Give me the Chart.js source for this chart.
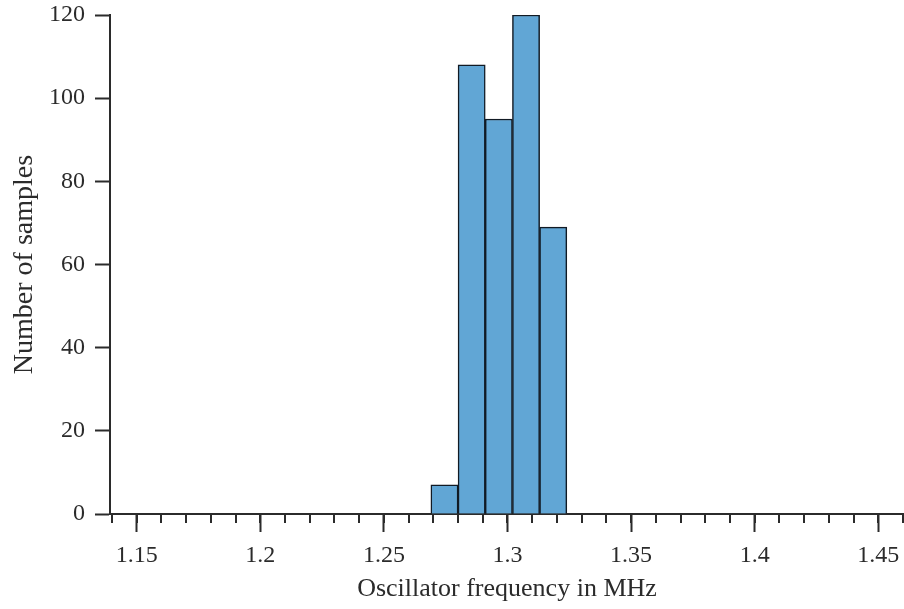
<!DOCTYPE html>
<html>
<head>
<meta charset="utf-8">
<script src="https://cdn.jsdelivr.net/npm/chart.js@4.4.1/dist/chart.umd.min.js"></script>
<style>
  html, body { margin: 0; padding: 0; background: #ffffff; }
  #wrap { width: 904px; height: 609px; position: relative; }
</style>
</head>
<body>
<div id="wrap"><canvas id="c" width="904" height="609"></canvas></div>
<script>
// Histogram data
const binEdges = [1.269, 1.280, 1.291, 1.302, 1.313, 1.324];
const counts = [7, 108, 95, 120, 69];
const xMin = 1.1392, xMax = 1.4604;
const xMajorStep = 0.05;
const xMinorStep = 0.01;
const yTicks = [0, 20, 40, 60, 80, 100, 120];
const xLabel = 'Oscillator frequency in MHz';
const yLabel = 'Number of samples';

const axisColor = '#2b2b2b';
const fontFamily = '"Liberation Serif", "Times New Roman", serif';

const barData = counts.map((c, i) => ({ x: (binEdges[i] + binEdges[i + 1]) / 2, y: c }));

const minorTicks = {
  id: 'minorTicks',
  afterDraw(chart) {
    const xs = chart.scales.x;
    const ctx = chart.ctx;
    const y0 = chart.chartArea.bottom;
    ctx.save();
    ctx.strokeStyle = axisColor;
    ctx.lineWidth = 2;
    const start = Math.ceil(xMin / xMinorStep - 1e-9);
    const end = Math.floor(xMax / xMinorStep + 1e-9);
    for (let i = start; i <= end; i++) {
      const v = i * xMinorStep;
      const px = Math.round(xs.getPixelForValue(v));
      ctx.beginPath();
      ctx.moveTo(px, y0);
      ctx.lineTo(px, y0 + 9);
      ctx.stroke();
    }
    ctx.restore();
  }
};

new Chart(document.getElementById('c'), {
  type: 'bar',
  data: {
    datasets: [{
      data: barData,
      backgroundColor: 'rgb(97,166,213)',
      borderColor: '#111a24',
      borderWidth: 1.5,
      barPercentage: 1,
      categoryPercentage: 1,
      grouped: false
    }]
  },
  plugins: [minorTicks],
  options: {
    responsive: false,
    animation: false,
    events: [],
    layout: { padding: { top: 15, right: 0, left: 0, bottom: 0 } },
    plugins: { legend: { display: false }, tooltip: { enabled: false } },
    scales: {
      x: {
        type: 'linear',
        min: xMin,
        max: xMax,
        offset: false,
        afterFit(scale) { scale.height = 95; scale.paddingLeft = 0; scale.paddingRight = 0; },
        afterBuildTicks(scale) {
          const t = [];
          const start = Math.ceil(xMin / xMajorStep - 1e-9);
          const end = Math.floor(xMax / xMajorStep + 1e-9);
          for (let i = start; i <= end; i++) {
            t.push({ value: Math.round(i * xMajorStep * 100) / 100 });
          }
          scale.ticks = t;
        },
        grid: {
          offset: false,
          drawOnChartArea: false,
          drawTicks: true,
          tickLength: 18,
          tickWidth: 2,
          tickColor: axisColor
        },
        border: { display: true, color: axisColor, width: 2 },
        ticks: {
          color: axisColor,
          font: { family: fontFamily, size: 24 },
          padding: 9,
          maxRotation: 0,
          autoSkip: false,
          callback: (v) => String(Math.round(v * 100) / 100)
        },
        title: {
          display: true,
          text: xLabel,
          color: axisColor,
          font: { family: fontFamily, size: 26 },
          padding: { top: 0, bottom: 4 }
        }
      },
      y: {
        min: 0,
        max: 120,
        afterFit(scale) { scale.width = 110; scale.paddingTop = 0; scale.paddingBottom = 0; },
        afterBuildTicks(scale) { scale.ticks = yTicks.map(v => ({ value: v })); },
        grid: {
          drawOnChartArea: false,
          drawTicks: true,
          tickLength: 15,
          tickWidth: 2,
          tickColor: axisColor
        },
        border: { display: true, color: axisColor, width: 2 },
        ticks: {
          color: axisColor,
          font: { family: fontFamily, size: 24 },
          padding: 10
        },
        title: {
          display: true,
          text: yLabel,
          color: axisColor,
          font: { family: fontFamily, size: 28 },
          padding: { top: 8, bottom: 0 }
        }
      }
    }
  }
});
</script>
</body>
</html>
